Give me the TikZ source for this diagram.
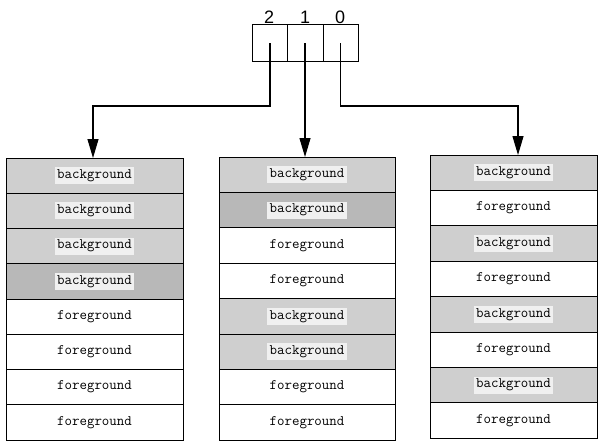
\documentclass[tikz,border=0pt]{standalone}
\usepackage{fontspec}
\newfontfamily\digitfont{Liberation Sans}
\usetikzlibrary{arrows.meta}
\definecolor{shade}{gray}{0.81}
\definecolor{shadedark}{gray}{0.72}
\definecolor{halo}{gray}{0.94}
\newcommand{\bgword}{{\setlength{\fboxsep}{2.5pt}\colorbox{halo}{background}}}
\tikzset{
  cellbox/.style={draw=black, line width=1pt, inner sep=0pt, font=\fontsize{14.5}{16}\selectfont\ttfamily},
  fgcell/.style={cellbox, fill=white},
  bgcell/.style={cellbox, fill=shade},
  bgdark/.style={cellbox, fill=shadedark},
  regcell/.style={draw=black, line width=1pt, minimum width=35pt, minimum height=37pt, inner sep=0pt},
  digit/.style={font=\fontsize{18}{20}\selectfont\digitfont, inner sep=0pt},
  conn/.style={line width=1.1pt, draw=black},
  arr/.style={conn, -{Triangle[width=11pt,length=19pt]}}
}
\begin{document}
\begin{tikzpicture}[x=1pt,y=-1pt]
\useasboundingbox (0,0) rectangle (601,441);
% register
\node[regcell] (r2) at (270,43.5) {};
\node[regcell, minimum width=36pt] (r1) at (305,43.5) {};
\node[regcell] (r0) at (340.5,43.5) {};
\node[digit] (d2) at (269,17) {2};
\node[digit] (d1) at (305,17) {1};
\node[digit] (d0) at (340,17) {0};
% left column
\foreach \i/\s/\t in {1/bgcell/\bgword,2/bgcell/\bgword,3/bgcell/\bgword,4/bgdark/\bgword,5/fgcell/foreground,6/fgcell/foreground,7/fgcell/foreground,8/fgcell/foreground}{
  \node[\s, minimum width=177pt, minimum height=35.25pt] (L\i) at (94.5,{158+17.625+(\i-1)*35.25}) {\t};
}
% middle column
\foreach \i/\s/\t in {1/bgcell/\bgword,2/bgdark/\bgword,3/fgcell/foreground,4/fgcell/foreground,5/bgcell/\bgword,6/bgcell/\bgword,7/fgcell/foreground,8/fgcell/foreground}{
  \node[\s, minimum width=176pt, minimum height=35.4pt] (M\i) at (307,{157+17.7+(\i-1)*35.4}) {\t};
}
% right column
\foreach \i/\s/\t in {1/bgcell/\bgword,2/fgcell/foreground,3/bgcell/\bgword,4/fgcell/foreground,5/bgcell/\bgword,6/fgcell/foreground,7/bgcell/\bgword,8/fgcell/foreground}{
  \node[\s, minimum width=167pt, minimum height=35.4pt] (R\i) at (513.5,{155+17.7+(\i-1)*35.4}) {\t};
}
% connectors
\coordinate (kL) at (270,106);
\coordinate (kR) at (341,106);
\coordinate (tL) at (93,158);
\coordinate (tM) at (305,157);
\coordinate (tR) at (518,155);
\draw[arr] (r2.center) -- (kL) -| (tL);
\draw[arr] (r1.center) -- (tM);
\draw[arr] (r0.center) |- (kR) -| (tR);
\end{tikzpicture}
\end{document}
